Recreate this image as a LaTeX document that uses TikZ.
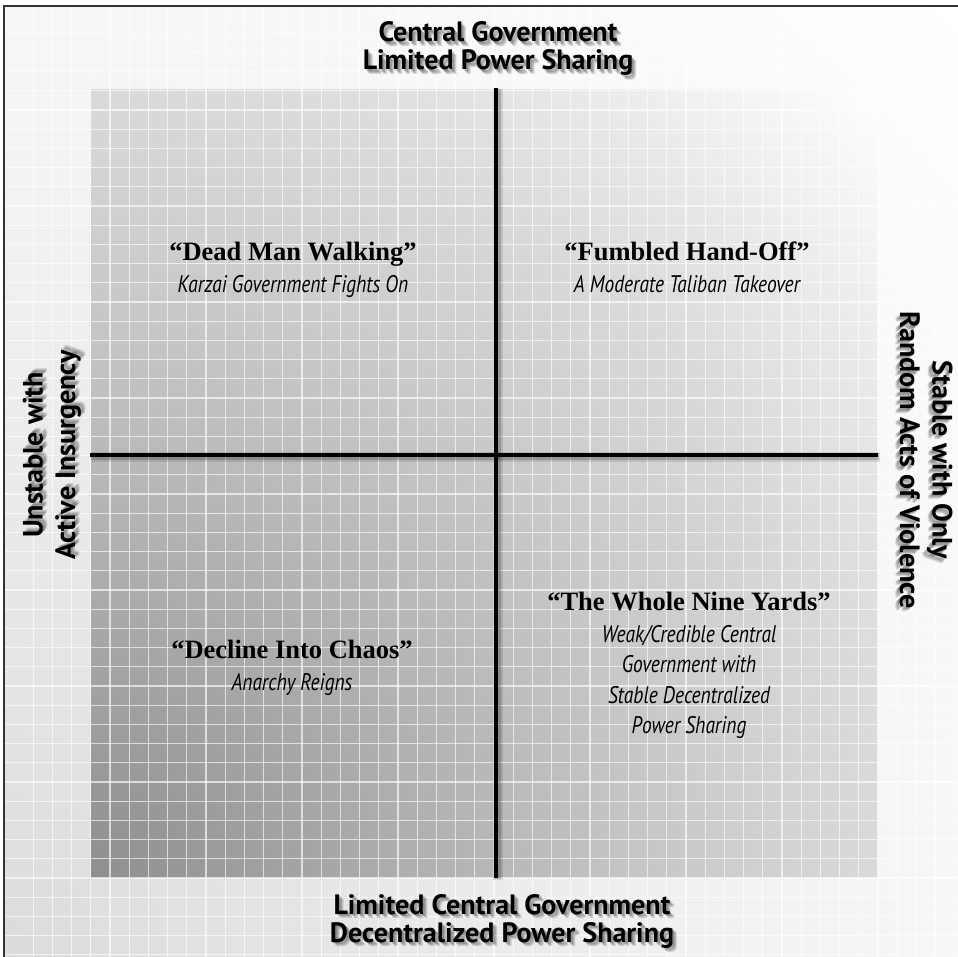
\documentclass[tikz,border=0pt]{standalone}
\usepackage{fontspec}
\usepackage{tikz}
\usetikzlibrary{positioning}
\newfontfamily\axisfont{PT Sans}
\newfontfamily\titlefont{Liberation Serif}
\newfontfamily\subfont[FakeStretch=0.81]{PT Sans}
\definecolor{glowA}{gray}{0.56}
\definecolor{glowB}{gray}{0.78}
\definecolor{glowC}{gray}{0.855}
\definecolor{edgeA}{gray}{0.86}
\definecolor{edgeB}{gray}{0.92}
\definecolor{edgeC}{gray}{0.97}
\definecolor{framegray}{gray}{0.2}
\pgfdeclareradialshading{innerglow}{\pgfpoint{0bp}{0bp}}{color(0bp)=(glowA); color(11.8bp)=(glowB); color(16.7bp)=(glowC); color(23.6bp)=(white); color(50bp)=(white)}
\pgfdeclareradialshading{outerglow}{\pgfpoint{0bp}{0bp}}{color(0bp)=(edgeA); color(8.3bp)=(edgeB); color(16.7bp)=(edgeC); color(23.6bp)=(white); color(50bp)=(white)}

\tikzset{
  axislabel/.style={font=\axisfont\bfseries\fontsize{28}{28}\selectfont, align=center, inner sep=0pt, anchor=base},
  sidelabel/.style={axislabel, font=\axisfont\bfseries\fontsize{28}{32.5}\selectfont},
  quadtitle/.style={font=\titlefont\bfseries\fontsize{26.5}{30}\selectfont, inner sep=0pt, anchor=base},
  quadsub/.style={font=\subfont\itshape\fontsize{24}{30.5}\selectfont, align=center, inner sep=0pt, anchor=base},
  gridline/.style={white, opacity=0.65, line width=1.3pt},
  axisline/.style={line width=4.5pt, black,
    preaction={draw=black, line width=10pt, opacity=0.10, transform canvas={shift={(1.5pt,-1.5pt)}}},
    preaction={draw=black, line width=7pt, opacity=0.18, transform canvas={shift={(1pt,-1pt)}}}},
  framerule/.style={framegray, line width=1.5pt}
}
% label with a soft drop shadow
\newcommand{\axistext}[5]{%
  \foreach \d in {1.5,2.5,3.5,4.5}
    \node[#5, text=black, text opacity=0.13, rotate=#3, xshift=\d pt, yshift=-\d pt] at (#2) {#4};
  \node[#5, rotate=#3] (#1) at (#2) {#4};}

\begin{document}
\begin{tikzpicture}[x=1pt, y=-1pt]
\useasboundingbox (0,0) rectangle (958,957);
% backgrounds, both glowing from the lower left corner
\begin{scope}
  \clip (4,6) rectangle (958,957);
  \shade[shading=outerglow] (-1427,-474) rectangle (1435,2388);
\end{scope}
\begin{scope}
  \clip (91,90) rectangle (878,877);
  \shade[shading=innerglow] (-1089.5,-303.5) rectangle (1271.5,2057.5);
\end{scope}
\begin{scope}
  \clip (4,6) rectangle (958,957);
  \foreach \k in {-4,...,44} {
    \draw[gridline] ({110+19.2*\k},6) -- ({110+19.2*\k},957);
    \draw[gridline] (4,{110+19.2*\k}) -- (958,{110+19.2*\k});
  }
\end{scope}
\draw[framerule] (4,957) -- (4,6) -- (958,6);

% axes
\coordinate (north) at (496,88);
\coordinate (south) at (496,878);
\coordinate (west)  at (90,455);
\coordinate (east)  at (878,455);
\draw[axisline] (north) -- (south);
\draw[axisline] (west) -- (east);

% axis labels
\axistext{central}{498,70}{0}{Central Government\\Limited Power Sharing}{axislabel}
\axistext{limited}{502,942}{0}{Limited Central Government\\Decentralized Power Sharing}{axislabel}
\axistext{unstable}{75,455}{90}{Unstable with\\Active Insurgency}{sidelabel}
\axistext{stable}{900,460}{-90}{Stable with Only\\Random Acts of Violence}{sidelabel}

% quadrants
\node[quadtitle] (walking) at (293,261) {“Dead Man Walking”};
\node[quadsub] (walkingsub) at ([yshift=-32pt]walking.base) {Karzai Government Fights On};
\node[quadtitle] (handoff) at (687,261) {“Fumbled Hand-Off”};
\node[quadsub] (handoffsub) at ([yshift=-32pt]handoff.base) {A Moderate Taliban Takeover};
\node[quadtitle] (chaos) at (292,658) {“Decline Into Chaos”};
\node[quadsub] (chaossub) at ([yshift=-32pt]chaos.base) {Anarchy Reigns};
\node[quadtitle] (yards) at (689,610) {“The Whole Nine Yards”};
\node[quadsub] (yardssub) at ([yshift=-123.5pt]yards.base) {Weak/Credible Central\\Government with\\Stable Decentralized\\Power Sharing};
\end{tikzpicture}
\end{document}
